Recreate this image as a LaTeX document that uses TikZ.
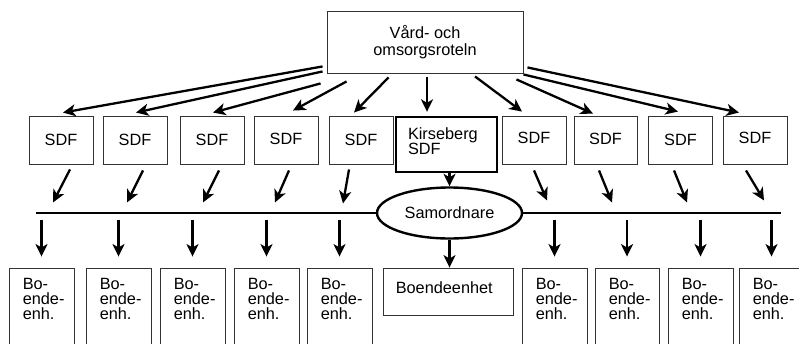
\documentclass[tikz,border=0pt]{standalone}
\usepackage{fontspec}
\setmainfont{Liberation Sans}
\usetikzlibrary{arrows.meta,shapes.geometric,calc}
\tikzset{
  txt/.style={font=\fontsize{16.3}{15}\selectfont},
  thinbox/.style={draw=black!80, line width=0.9pt, rectangle, inner sep=0pt, txt},
  sdfbox/.style={thinbox, minimum width=64pt, minimum height=48pt},
  bobox/.style={thinbox, minimum width=65pt, minimum height=92pt},
  thickbox/.style={draw=black, line width=2.4pt, rectangle, inner sep=0pt, txt},
  lbl/.style={txt, inner sep=0pt, anchor=north west, align=left},
  arr/.style={draw=black, line width=2.3pt, -{Stealth[length=12.5pt,width=12pt,inset=3.5pt]}},
  hline/.style={draw=black, line width=2.8pt},
}
\begin{document}
\begin{tikzpicture}[x=1pt,y=-1pt]
\useasboundingbox (0,0) rectangle (799,343);
\clip (0,0) rectangle (799,343);
% top
\node[thinbox, minimum width=196pt, minimum height=62pt, align=center,
  font=\fontsize{16.3}{16.5}\selectfont] (top) at (425,42) {Vård- och\\omsorgsroteln};
% SDF row
\node[sdfbox] (s1) at (61,140) {SDF};
\node[sdfbox] (s2) at (135,140) {SDF};
\node[sdfbox] (s3) at (212,140) {SDF};
\node[sdfbox] (s4) at (286,140) {\raisebox{3pt}{SDF}};
\node[sdfbox] (s5) at (361,140) {SDF};
\node[thickbox, minimum width=101pt, minimum height=55pt] (K) at (446.5,144.5) {};
\node[lbl] (Kt) at ($(K.north west)+(13,11.5)$) {Kirseberg\\SDF};
\node[sdfbox] (s6) at (534,140) {\raisebox{4.5pt}{SDF}};
\node[sdfbox, minimum width=63pt] (s7) at (605.5,140) {\raisebox{1.5pt}{SDF}};
\node[sdfbox] (s8) at (680.5,140) {\raisebox{1pt}{SDF}};
\node[sdfbox] (s9) at (755,140) {\raisebox{4.5pt}{SDF}};
% top arrows
\draw[arr] ($(top.south west)+(-4,-7)$) -- ($(s1.north)+(2,-3)$);
\draw[arr] ($(top.south west)+(-4,-2)$) -- ($(s2.north)+(1,-3)$);
\draw[arr] ($(top.south west)+(-6,10)$) -- ($(s3.north)+(1,-3)$);
\draw[arr] ($(top.south west)+(20,8)$) -- ($(s4.north)+(7,-5)$);
\draw[arr] ($(top.south west)+(62,4)$) -- ($(s5.north)+(-7,-3)$);
\draw[arr] ($(top.south)+(2,4)$) -- ($(K.north)+(-19.5,-4)$);
\draw[arr] ($(top.south)+(50,3)$) -- ($(s6.north)+(-12,-4)$);
\draw[arr] ($(top.south east)+(-7,6)$) -- ($(s7.north)+(-12.5,-2)$);
\draw[arr] ($(top.south east)+(0,1)$) -- ($(s8.north)+(-2.5,-4)$);
\draw[arr] ($(top.south east)+(4,-6)$) -- ($(s9.north)+(-16,-3)$);
% samordnare and line
\node[ellipse, draw=black, line width=2.4pt, minimum width=145pt, minimum height=51pt,
  inner sep=0pt, txt] (sam) at (449.5,213) {Samordnare};
\coordinate (hl) at (36,213);
\coordinate (hr) at (781,213);
\draw[hline] (hl) -- (sam.west);
\draw[hline] (sam.east) -- (hr);
\draw[arr] (K.south -| sam.north) -- (sam.north);
% SDF to line arrows
\draw[arr] ($(s1.south)+(9,5)$) -- ($(s1.south)+(-8,38)$);
\draw[arr] ($(s2.south)+(8,6)$) -- ($(s2.south)+(-8,38)$);
\draw[arr] ($(s3.south)+(7,6)$) -- ($(s3.south)+(-9,38)$);
\draw[arr] ($(s4.south)+(3,6)$) -- ($(s4.south)+(-11,38)$);
\draw[arr] ($(s5.south)+(-12,5)$) -- ($(s5.south)+(-18,39)$);
\draw[arr] ($(s6.south)+(0,6)$) -- ($(s6.south)+(13,36)$);
\draw[arr] ($(s7.south)+(-6.5,6)$) -- ($(s7.south)+(6.5,38)$);
\draw[arr] ($(s8.south)+(-6.5,6)$) -- ($(s8.south)+(6.5,38)$);
\draw[arr] ($(s9.south)+(-9,6)$) -- ($(s9.south)+(9,36)$);
% bottom boxes
\node[bobox] (b1) at (41.5,314) {};
\node[bobox] (b2) at (118.5,314) {};
\node[bobox] (b3) at (192.5,314) {};
\node[bobox] (b4) at (266.5,314) {};
\node[bobox] (b5) at (339.5,314) {};
\node[thinbox, minimum width=130pt, minimum height=47pt] (B) at (448,291.5) {};
\node[lbl] (Bt) at ($(B.north west)+(13,13.5)$) {Boendeenhet};
\node[bobox] (b6) at (554.5,314) {};
\node[bobox, minimum width=64pt] (b7) at (627,314) {};
\node[bobox] (b8) at (700.5,314) {};
\node[bobox] (b9) at (771.5,314) {};
\foreach \b in {b1,b2,b3,b4,b5,b6,b7,b8,b9}{
  \node[lbl] (\b t) at ($(\b.north west)+(14,10.5)$) {Bo-\\ende-\\enh.};
  \draw[arr] ($(\b.north)+(0,-48)$) -- ($(\b.north)+(0,-11)$);
}
\draw[arr] (sam.south) -- (sam.south |- B.north);
\end{tikzpicture}
\end{document}
